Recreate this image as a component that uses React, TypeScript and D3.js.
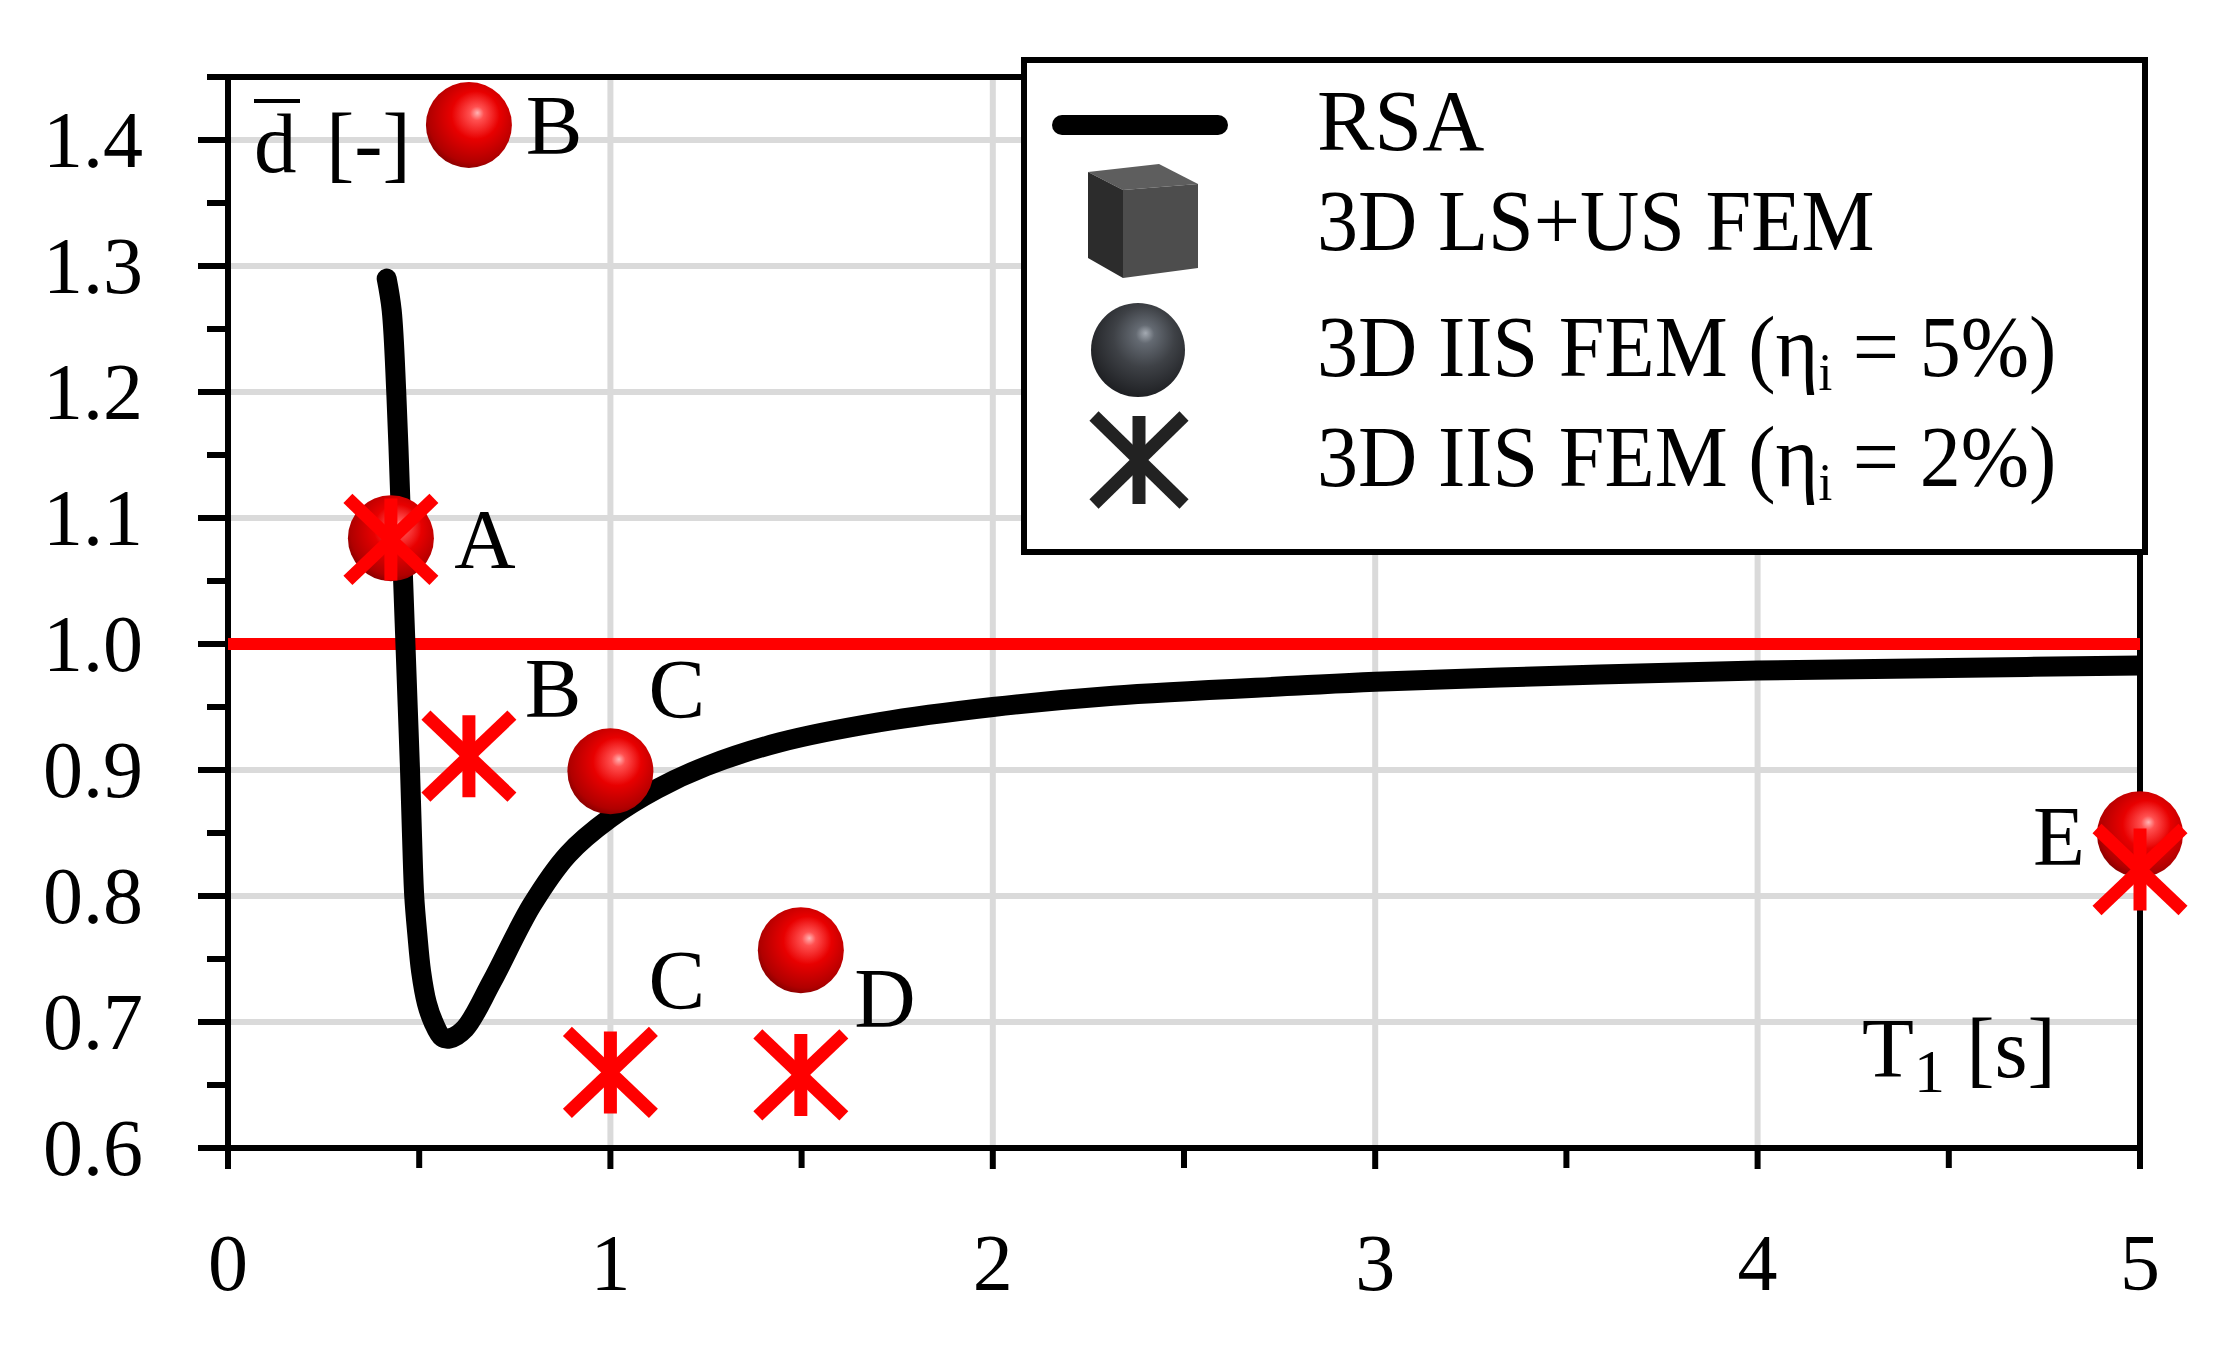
import React from "react";
import * as d3 from "d3";

// ---------- data ----------
const rsaT = [0.415, 0.428, 0.44, 0.45, 0.458, 0.464, 0.47, 0.476, 0.481, 0.487, 0.495, 0.505, 0.52, 0.537, 0.56, 0.58, 0.62, 0.69, 0.795, 0.889, 1.0, 1.122, 1.25, 1.444, 1.705, 2.0, 2.315, 2.8, 3.0, 3.5, 4.0, 4.5, 5.0];
const rsaD = [1.29, 1.265, 1.2, 1.12, 1.05, 1.0, 0.95, 0.9, 0.85, 0.8, 0.77, 0.74, 0.715, 0.7, 0.688, 0.687, 0.695, 0.732, 0.793, 0.833, 0.862, 0.885, 0.903, 0.922, 0.938, 0.95, 0.959, 0.967, 0.97, 0.975, 0.979, 0.981, 0.983];

const iis5T = [0.426, 0.63, 1.0, 1.498, 5.0];
const iis5D = [1.084, 1.412, 0.899, 0.757, 0.849];
const iis2T = [0.426, 0.63, 1.0, 1.498, 5.0];
const iis2D = [1.083, 0.911, 0.66, 0.658, 0.821];

const annText = ["B", "A", "B", "C", "C", "D", "E"];
const annT = [0.853, 0.672, 0.85, 1.174, 1.174, 1.718, 4.788];
const annD = [1.412, 1.083, 0.965, 0.964, 0.733, 0.719, 0.848];

const yMajor = [0.6, 0.7, 0.8, 0.9, 1.0, 1.1, 1.2, 1.3, 1.4];
const yMinor = [0.65, 0.75, 0.85, 0.95, 1.05, 1.15, 1.25, 1.35, 1.45];
const yGrid = [0.7, 0.8, 0.9, 1.1, 1.2, 1.3, 1.4];
const xMajor = [0, 1, 2, 3, 4, 5];
const xMinor = [0.5, 1.5, 2.5, 3.5, 4.5];
const xGrid = [1, 2, 3, 4];
const refLine = 1.0;

const legendLabels = ["RSA", "3D LS+US FEM", "3D IIS FEM (η", "3D IIS FEM (η"];
const legendTails = ["", "", " = 5%)", " = 2%)"];

// ---------- layout ----------
const W = 2230, H = 1349;
const x = d3.scaleLinear().domain([0, 5]).range([228, 2140]);
const y = d3.scaleLinear().domain([0.6, 1.45]).range([1148, 77]);
const FONT = "'Liberation Serif', 'Times New Roman', serif";

function Asterisk({ cx, cy, hw, hh, color, sw }: any) {
  return (
    <g stroke={color} strokeWidth={sw} strokeLinecap="butt">
      <line x1={cx} y1={cy - hh} x2={cx} y2={cy + hh} />
      <line x1={cx - hw} y1={cy - hh} x2={cx + hw} y2={cy + hh} />
      <line x1={cx - hw} y1={cy + hh} x2={cx + hw} y2={cy - hh} />
    </g>
  );
}

export default function App() {
  const line = d3
    .line<number>()
    .x((_, i) => x(rsaT[i]))
    .y((_, i) => y(rsaD[i]))
    .curve(d3.curveCatmullRom.alpha(0.5));
  const path = line(rsaD) || "";

  const x0 = x(0), x5 = x(5), yb = y(0.6), yt = y(1.45);

  const lgX = 1024, lgY = 60, lgW = 1121, lgH = 492;
  const iconX = 1140, textX = 1317;
  const rowBase = [150, 250, 376, 486];

  return (
    <svg width={W} height={H} style={{ position: "absolute", left: 0, top: 0, display: "block", background: "#fff" }} fontFamily={FONT}>
      <defs>
        <radialGradient id="redBall" cx="0.55" cy="0.42" r="0.62" fx="0.6" fy="0.36">
          <stop offset="0" stopColor="#ffb4b4" />
          <stop offset="0.13" stopColor="#ff5050" />
          <stop offset="0.45" stopColor="#e80000" />
          <stop offset="0.85" stopColor="#b00000" />
          <stop offset="1" stopColor="#800000" />
        </radialGradient>
        <radialGradient id="grayBall" cx="0.55" cy="0.4" r="0.65" fx="0.58" fy="0.32">
          <stop offset="0" stopColor="#a4aab2" />
          <stop offset="0.15" stopColor="#646a72" />
          <stop offset="0.5" stopColor="#3e4146" />
          <stop offset="1" stopColor="#1a1b1e" />
        </radialGradient>
        <clipPath id="plotClip">
          <rect x={x(0)} y={0} width={x(5) - x(0) + 2} height={H} />
        </clipPath>
      </defs>

      {/* grid */}
      <g stroke="#dadada" strokeWidth={6}>
        {xGrid.map((t) => (
          <line key={"gx" + t} x1={x(t)} x2={x(t)} y1={yt} y2={yb} />
        ))}
        {yGrid.map((t) => (
          <line key={"gy" + t} x1={x0} x2={x5} y1={y(t)} y2={y(t)} />
        ))}
      </g>

      {/* frame + ticks */}
      <g stroke="#000" strokeWidth={6} fill="none">
        <rect x={x0} y={yt} width={x5 - x0} height={yb - yt} />
        {yMajor.map((t) => (
          <line key={"ym" + t} x1={x0 - 30} x2={x0} y1={y(t)} y2={y(t)} />
        ))}
        {yMinor.map((t) => (
          <line key={"yn" + t} x1={x0 - 21} x2={x0} y1={y(t)} y2={y(t)} />
        ))}
        {xMajor.map((t) => (
          <line key={"xm" + t} x1={x(t)} x2={x(t)} y1={yb} y2={yb + 21} />
        ))}
        {xMinor.map((t) => (
          <line key={"xn" + t} x1={x(t)} x2={x(t)} y1={yb} y2={yb + 20} />
        ))}
      </g>

      {/* tick labels */}
      <g fontSize={80} fill="#000">
        {yMajor.map((t) => (
          <text key={"yl" + t} x={143} y={y(t)} textAnchor="end" dominantBaseline="central">
            {t.toFixed(1)}
          </text>
        ))}
        {xMajor.map((t) => (
          <text key={"xl" + t} x={x(t)} y={1290} textAnchor="middle">
            {t}
          </text>
        ))}
      </g>

      {/* reference line */}
      <line x1={x0} x2={x5} y1={y(refLine)} y2={y(refLine)} stroke="#ff0000" strokeWidth={12} />

      {/* RSA curve */}
      <path d={path} fill="none" stroke="#000" strokeWidth={20} strokeLinecap="round" strokeLinejoin="round" clipPath="url(#plotClip)" />

      {/* spheres */}
      {iis5T.map((t, i) => (
        <circle key={"s" + i} cx={x(t)} cy={y(iis5D[i])} r={43} fill="url(#redBall)" />
      ))}
      {/* asterisks */}
      {iis2T.map((t, i) => (
        <Asterisk key={"a" + i} cx={x(t)} cy={y(iis2D[i])} hw={43} hh={41} color="#ff0000" sw={13} />
      ))}

      {/* point annotations */}
      <g fontSize={85} fill="#000">
        {annText.map((s, i) => (
          <text key={"an" + i} x={x(annT[i])} y={y(annD[i])} textAnchor="middle" dominantBaseline="central">
            {s}
          </text>
        ))}
      </g>

      {/* axis titles */}
      <g fontSize={85} fill="#000">
        <text x={254} y={172}>d</text>
        <line x1={254} x2={300} y1={101} y2={101} stroke="#000" strokeWidth={4} />
        <text x={326} y={172}>[-]</text>
        <text x={1862} y={1077}>
          T<tspan fontSize={62} dy={15}>1</tspan>
          <tspan dy={-15}> [s]</tspan>
        </text>
      </g>

      {/* legend */}
      <g>
        <rect x={lgX} y={lgY} width={lgW} height={lgH} fill="#fff" stroke="#000" strokeWidth={6} />
        <line x1={iconX - 78} x2={iconX + 78} y1={125} y2={125} stroke="#000" strokeWidth={20} strokeLinecap="round" />
        <g>
          <polygon points={`${iconX - 52},172 ${iconX + 19},164 ${iconX + 58},184 ${iconX - 17},190`} fill="#5e5e5e" />
          <polygon points={`${iconX - 17},190 ${iconX + 58},184 ${iconX + 58},268 ${iconX - 17},278`} fill="#4d4d4d" />
          <polygon points={`${iconX - 52},172 ${iconX - 17},190 ${iconX - 17},278 ${iconX - 52},258`} fill="#2c2c2c" />
        </g>
        <circle cx={iconX - 2} cy={350} r={47} fill="url(#grayBall)" />
        <Asterisk cx={iconX - 1} cy={460} hw={45} hh={44} color="#222" sw={13} />
        <g fontSize={86} fill="#000">
          {legendLabels.map((s, i) => (
            <g key={"lg" + i} transform={`translate(${textX},${rowBase[i]}) scale(${i === 0 ? 1 : 0.955},1)`}>
              <text x={0} y={0}>
                {s}
                {legendTails[i] ? (
                  <>
                    <tspan fontSize={52} dy={14}>i</tspan>
                    <tspan dy={-14}>{legendTails[i]}</tspan>
                  </>
                ) : null}
              </text>
            </g>
          ))}
        </g>
      </g>
    </svg>
  );
}
